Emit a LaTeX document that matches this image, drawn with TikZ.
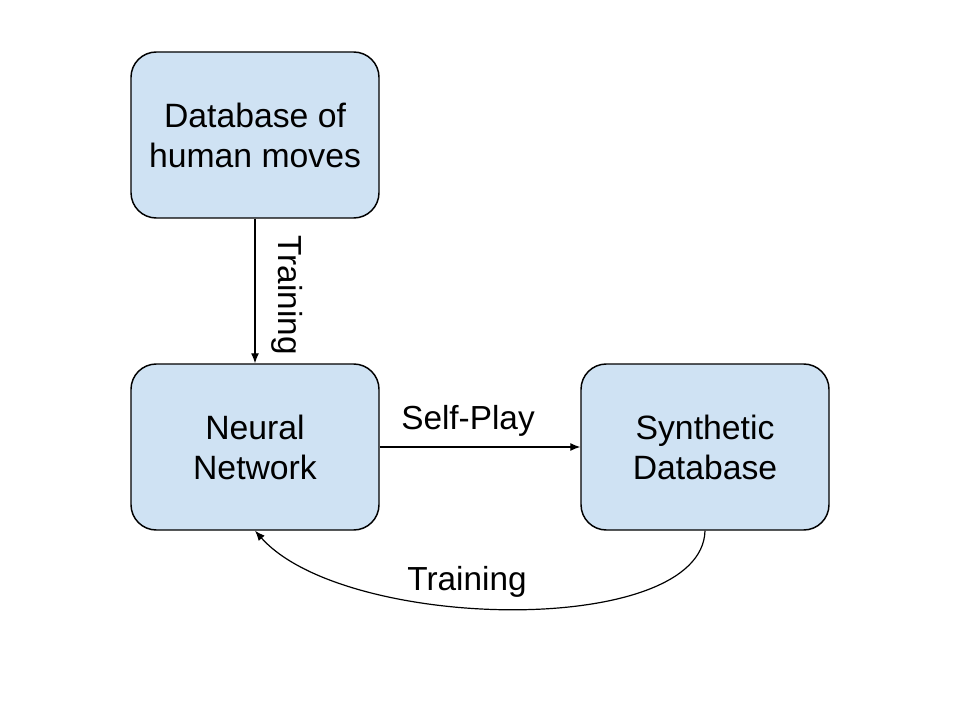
\documentclass[tikz,border=0pt]{standalone}
\usepackage{fontspec}
\setmainfont{Liberation Sans}
\usetikzlibrary{arrows.meta}
\definecolor{boxfill}{HTML}{CFE2F3}
\begin{document}
\begin{tikzpicture}[x=0.75pt,y=-0.75pt,
  blockbox/.style={draw=black, line width=1.1pt, fill=boxfill, rounded corners=19pt,
    minimum width=186pt, minimum height=124.5pt, align=center, inner sep=0pt,
    font=\fontsize{25.3pt}{30pt}\selectfont},
  conn/.style={draw=black, line width=0.9pt, -{Latex[length=7.5pt,width=6pt]}},
  lbl/.style={font=\fontsize{25pt}{30pt}\selectfont, inner sep=0pt}]
\useasboundingbox (0,0) rectangle (960,720);
\node[blockbox] (db) at (255,135) {Database of\\human moves};
\node[blockbox] (nn) at (255,447) {Neural\\Network};
\node[blockbox] (sd) at (705,447) {Synthetic\\Database};
\draw[conn] (db.south) -- (nn.north);
\node[lbl, rotate=-90] (t1) at (287,295) {Training};
\draw[conn] (nn.east) -- (sd.west);
\node[lbl] (sp) at (468,421) {Self-Play};
\draw[conn] (sd.south) .. controls (702,638) and (345,632) .. (nn.south);
\node[lbl] (t2) at (467,582) {Training};
\end{tikzpicture}
\end{document}
